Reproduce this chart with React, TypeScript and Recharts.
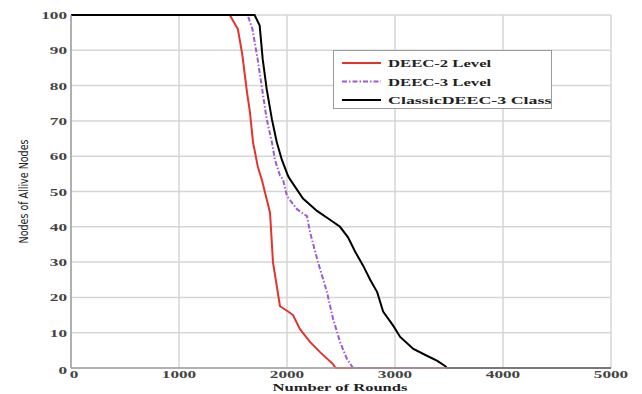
import { CartesianGrid, Line, LineChart, XAxis, YAxis } from "recharts";

// rounds vs alive nodes
const deec2Rounds = [0, 1470, 1545, 1585, 1630, 1657, 1685, 1730, 1770, 1843, 1870, 1935, 2010, 2056, 2120, 2213, 2306, 2426, 2450, 5000];
const deec2Nodes = [100, 100, 96, 89, 78, 72.5, 64, 57, 53, 44, 30, 17.5, 16, 15, 11, 7.4, 4.5, 1.1, 0, 0];

const deec3Rounds = [0, 1635, 1680, 1728, 1775, 1812, 1860, 1888, 1935, 1962, 2000, 2092, 2185, 2213, 2287, 2370, 2426, 2491, 2556, 2612, 5000];
const deec3Nodes = [100, 100, 96, 87.5, 78, 70.5, 64, 59, 54.5, 53.5, 48.7, 45, 43, 38.5, 30, 21.5, 14, 7.4, 2.5, 0, 0];

const classicRounds = [0, 1700, 1747, 1775, 1812, 1860, 1905, 1952, 2008, 2027, 2148, 2278, 2398, 2491, 2565, 2630, 2705, 2770, 2835, 2890, 2983, 3048, 3170, 3300, 3392, 3466, 3480, 5000];
const classicNodes = [100, 100, 97, 87.5, 79, 70.5, 64, 59, 54.5, 53.5, 48, 44.5, 42, 40, 37, 33, 29, 25, 21.5, 16, 12, 8.8, 5.4, 3.4, 2, 0.5, 0, 0];

const xTicks = [0, 1000, 2000, 3000, 4000, 5000];
const yTicks = [0, 10, 20, 30, 40, 50, 60, 70, 80, 90, 100];

const seriesNames = ["DEEC-2 Level", "DEEC-3 Level", "ClassicDEEC-3 Class"];

const toPoints = (rounds: number[], nodes: number[]) => rounds.map((r, i) => ({ rounds: r, nodes: nodes[i] }));

const series = [
  { name: seriesNames[0], data: toPoints(deec2Rounds, deec2Nodes), color: "#e2342c", dash: undefined },
  { name: seriesNames[1], data: toPoints(deec3Rounds, deec3Nodes), color: "#9e5ad2", dash: "5 2 1.5 2" },
  { name: seriesNames[2], data: toPoints(classicRounds, classicNodes), color: "#000000", dash: undefined },
];

const serif = "'Liberation Serif', 'Times New Roman', serif";
const narrow = "'Liberation Sans Narrow', 'DejaVu Sans Condensed', 'Liberation Sans', sans-serif";

// the source image is stretched sideways, so glyphs get widened via textLength
const CHAR_W = 8.6;

function XTick(props: any) {
  const { x, y, payload } = props;
  const s = String(payload.value);
  return (
    <text x={x + (payload.value === 0 ? 3 : 0)} y={y + 2} textAnchor="middle" fontFamily={serif} fontWeight="bold" fontSize={10} fill="#444" textLength={s.length * CHAR_W} lengthAdjust="spacingAndGlyphs">
      {s}
    </text>
  );
}

function YTick(props: any) {
  const { x, y, payload } = props;
  const s = String(payload.value);
  return (
    <text x={x + 4} y={y + (payload.value === 0 ? 6 : 4)} textAnchor="end" fontFamily={serif} fontWeight="bold" fontSize={10} fill="#444" textLength={s.length * CHAR_W} lengthAdjust="spacingAndGlyphs">
      {s}
    </text>
  );
}

function XTitle() {
  return (
    <text x={340} y={391} textAnchor="middle" fontFamily={serif} fontWeight="bold" fontSize={11} fill="#222" textLength={135} lengthAdjust="spacingAndGlyphs">
      Number of Rounds
    </text>
  );
}

function YTitle(props: any) {
  const vb = props.viewBox;
  const cx = 23;
  const cy = vb.y + vb.height / 2;
  return (
    <text x={cx} y={cy} transform={`rotate(-90 ${cx} ${cy})`} textAnchor="middle" dominantBaseline="central" fontFamily={narrow} fontSize={13} fill="#222" textLength={104} lengthAdjust="spacingAndGlyphs">
      Nodes of Allive Nodes
    </text>
  );
}

function LegendBox() {
  return (
    <svg width={220} height={60} style={{ position: "absolute", left: 333, top: 50 }}>
      <rect x={0.5} y={0.5} width={218} height={58} fill="#fff" stroke="#9a9a9a" strokeWidth={1} />
      {series.map((s, i) => {
        const cy = 13 + i * 18.5;
        return (
          <g key={s.name}>
            <line x1={9} y1={cy} x2={48} y2={cy} stroke={s.color} strokeWidth={2} strokeDasharray={s.dash} />
            <text x={55} y={cy + 4} fontFamily={serif} fontWeight="bold" fontSize={11} fill="#222" textLength={s.name.length * 8.6} lengthAdjust="spacingAndGlyphs">
              {s.name}
            </text>
          </g>
        );
      })}
    </svg>
  );
}

export default function App() {
  return (
    <div style={{ position: "absolute", left: 0, top: 0, width: 642, height: 394, background: "#fff" }}>
      <LineChart width={642} height={394} margin={{ top: 15, right: 31, bottom: 0, left: 31 }}>
        <CartesianGrid stroke="#d6d6d6" strokeWidth={1.5} />
        <XAxis
          dataKey="rounds"
          type="number"
          domain={[0, 5000]}
          ticks={xTicks}
          allowDuplicatedCategory={false}
          stroke="#a0a0a0"
          strokeWidth={1.5}
          tickLine={false}
          height={26}
          tick={<XTick />}
          label={{ content: () => <XTitle /> }}
        />
        <YAxis
          dataKey="nodes"
          type="number"
          domain={[0, 100]}
          ticks={yTicks}
          stroke="#a0a0a0"
          strokeWidth={1.5}
          tickLine={false}
          width={40}
          tick={<YTick />}
          label={{ content: (p: any) => <YTitle {...p} /> }}
        />
        {series.map((s) => (
          <Line
            key={s.name}
            data={s.data}
            dataKey="nodes"
            name={s.name}
            type="linear"
            stroke={s.color}
            strokeWidth={2}
            strokeDasharray={s.dash}
            dot={false}
            isAnimationActive={false}
          />
        ))}
      </LineChart>
      <LegendBox />
    </div>
  );
}
